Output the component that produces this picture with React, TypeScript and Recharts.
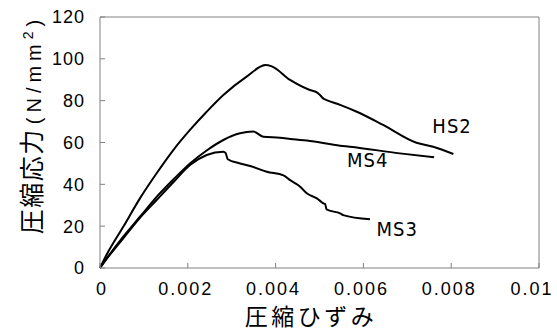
import { LineChart, Line, XAxis, YAxis, ReferenceLine, ReferenceDot } from "recharts";

const strainTicks = [0, 0.002, 0.004, 0.006, 0.008, 0.01];
const strainTickLabels = ["0", "0.002", "0.004", "0.006", "0.008", "0.01"];
const stressTicks = [0, 20, 40, 60, 80, 100, 120];

// [strain, stress N/mm2]
const hs2Raw = [
  [0, 0], [0.00015, 6.3], [0.00053, 19.7], [0.00091, 33.3], [0.00129, 45.3],
  [0.00167, 56.4], [0.00205, 66], [0.00243, 74.7], [0.00281, 82.7], [0.00334, 91.5],
  [0.00377, 97], [0.0039, 96.5], [0.00433, 89.9], [0.00478, 85.1], [0.00494, 84],
  [0.00501, 82.7], [0.00509, 81], [0.00516, 80.3], [0.00547, 78], [0.00585, 74.7],
  [0.00645, 68.4], [0.00721, 59.9], [0.00759, 58], [0.00805, 54.5],
];
const ms4Raw = [
  [0, 0], [0.00015, 4.5], [0.00053, 15], [0.00091, 24.5], [0.00129, 34],
  [0.00167, 42.3], [0.00205, 50], [0.00243, 56.2], [0.00281, 61.2], [0.00319, 64.4],
  [0.00349, 65.2], [0.00372, 62.8], [0.0041, 62.3], [0.0044, 61.5], [0.00471, 61],
  [0.00547, 58.5], [0.00569, 58], [0.00683, 54.8], [0.00761, 52.9],
];
const ms3Raw = [
  [0, 0], [0.00015, 4.3], [0.00053, 14.2], [0.00091, 24], [0.00129, 32.5],
  [0.00167, 41], [0.00205, 49.2], [0.00243, 54], [0.00281, 55.6], [0.00286, 55],
  [0.00291, 52], [0.00319, 50], [0.00342, 48.8], [0.0038, 46], [0.00418, 44.3],
  [0.00433, 42], [0.00456, 38.9], [0.00471, 35.7], [0.00494, 33.3], [0.00509, 30.9],
  [0.00513, 30.5], [0.00516, 28], [0.00547, 26.1], [0.00554, 25.3], [0.00615, 23.3],
];

const seriesLabels = [
  { name: "HS2", x: 0.00802, y: 67.9 },
  { name: "MS4", x: 0.0061, y: 51.6 },
  { name: "MS3", x: 0.00677, y: 18.6 },
];

const toPoints = (raw: number[][]) => raw.map(([x, y]) => ({ x, y }));
const hs2 = toPoints(hs2Raw);
const ms4 = toPoints(ms4Raw);
const ms3 = toPoints(ms3Raw);

const axisColor = "#808080";
const latinFont = "'Liberation Sans', Arial, sans-serif";
const condensedFont = "'DejaVu Sans Condensed', 'Liberation Sans', sans-serif";
const cjkFont = "'Noto Sans CJK JP', sans-serif";

const YLabel = () => (
  <text transform="translate(41 127) rotate(-90)" x={0} y={0} textAnchor="middle" fill="#000">
    <tspan fontFamily={cjkFont} fontSize={25} letterSpacing={1.5}>圧縮応力</tspan>
    <tspan fontFamily={latinFont} fontSize={20} letterSpacing={5} dx={4}>(N/mm</tspan>
    <tspan fontFamily={latinFont} fontSize={14} letterSpacing={5} dy={-8}>2</tspan>
    <tspan fontFamily={latinFont} fontSize={20} dy={8}>)</tspan>
  </text>
);

const XLabel = () => (
  <text x={311} y={325} textAnchor="middle" fontFamily={cjkFont} fontSize={23} letterSpacing={3.5} fill="#000">
    圧縮ひずみ
  </text>
);

const StrainTick = (props: any) => {
  const { x, y, payload } = props;
  const i = strainTicks.indexOf(payload.value);
  const shift = payload.value === 0.01 ? -7 : payload.value === 0 ? 2 : -2;
  return (
    <text x={x + shift} y={y} dy="0.71em" textAnchor="middle" fontFamily={latinFont} fontSize={18} letterSpacing={2} fill="#000">
      {strainTickLabels[i]}
    </text>
  );
};

export default function App() {
  return (
    <div style={{ width: 557, height: 332 }}>
      <style>{`body{margin:0}`}</style>
      <LineChart width={557} height={332} margin={{ top: 17, right: 18, bottom: 0, left: 0 }}>
        <XAxis
          type="number"
          dataKey="x"
          domain={[0, 0.01]}
          ticks={strainTicks}
          height={64}
          stroke={axisColor}
          tickSize={-5}
          tickMargin={19}
          tick={<StrainTick />}
          label={<XLabel />}
        />
        <YAxis
          type="number"
          domain={[0, 120]}
          ticks={stressTicks}
          width={100}
          stroke={axisColor}
          tickSize={-5}
          tickMargin={20}
          tick={{ fill: "#000", fontSize: 18, fontFamily: latinFont, letterSpacing: 1 }}
          label={<YLabel />}
        />
        <ReferenceLine y={120} stroke={axisColor} />
        <ReferenceLine x={0.01} stroke={axisColor} />
        <Line data={hs2} dataKey="y" type="monotone" stroke="#000" strokeWidth={2} dot={false} isAnimationActive={false} />
        <Line data={ms4} dataKey="y" type="monotone" stroke="#000" strokeWidth={2} dot={false} isAnimationActive={false} />
        <Line data={ms3} dataKey="y" type="monotone" stroke="#000" strokeWidth={2} dot={false} isAnimationActive={false} />
        {seriesLabels.map((l) => (
          <ReferenceDot
            key={l.name}
            x={l.x}
            y={l.y}
            r={0}
            shape={(p: any) => (
              <text x={p.cx} y={p.cy} textAnchor="middle" dominantBaseline="central" fontFamily={condensedFont} fontSize={20} letterSpacing={1} fill="#000">
                {l.name}
              </text>
            )}
          />
        ))}
      </LineChart>
    </div>
  );
}
